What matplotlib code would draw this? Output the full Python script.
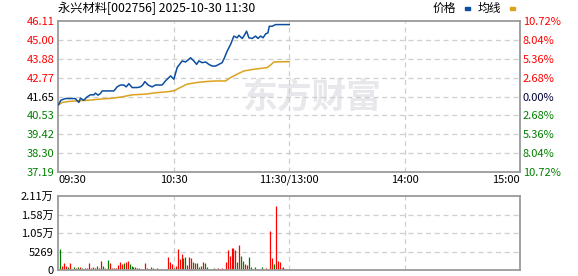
import matplotlib.pyplot as plt

plt.rcParams['font.family'] = ['Noto Sans CJK SC', 'DejaVu Sans']

title = "永兴材料[002756] 2025-10-30 11:30"
pre_close = 41.65

# price line, minutes since 09:30
price_min = [0, 1.2, 3.6, 8.8, 9.7, 10.6, 11.4, 13.2, 14.9, 16.6, 18.4, 19.2, 20.6, 21.8, 22.7,
             28.8, 30.5, 32.2, 34, 35.2, 36.6, 38.3, 40.9, 42.6, 43.8, 44.9, 46.6, 48.7, 50.4,
             53.9, 55.6, 57.4, 58.3, 60, 61.7, 64.3, 66.1, 68.7, 70.4, 71.8, 73, 74.7, 76.5,
             78.2, 79.9, 81.7, 83.4, 85.1, 86.3, 87.7, 89.5, 91.2, 92.9, 93.8, 95.5, 96.4,
             97.8, 99, 100.7, 102.5, 103.7, 105.1, 106.4, 107.7, 108.9, 109.6, 111.1, 112.9, 120]
price = [41.16, 41.43, 41.53, 41.53, 41.40, 41.30, 41.55, 41.43, 41.63, 41.75, 41.75, 41.85, 41.73,
         41.83, 41.98, 41.98, 42.22, 42.33, 42.33, 42.22, 42.41, 42.18, 42.18, 42.22, 42.33, 42.53,
         42.33, 42.22, 42.33, 42.33, 42.57, 42.77, 42.87, 42.67, 43.36, 43.75, 43.69, 43.94, 43.75,
         43.55, 43.75, 43.65, 43.69, 43.55, 43.45, 43.45, 43.55, 43.65, 43.94, 44.33, 44.73, 45.22,
         45.12, 45.27, 45.08, 45.22, 45.51, 45.12, 45.08, 45.22, 45.08, 45.22, 45.12, 45.35, 45.41,
         45.80, 45.80, 45.90, 45.90]

avg_min = [0, 1.9, 5.4, 10.6, 15.8, 21, 27.9, 33.1, 38.3, 45.2, 50.4, 57.4, 60.5, 61.7, 66.9,
           72.1, 77.3, 82.5, 86.9, 89.5, 92.9, 96.4, 101.6, 108.5, 110.3, 112, 120]
avg = [41.16, 41.30, 41.36, 41.40, 41.43, 41.49, 41.55, 41.63, 41.75, 41.79, 41.87, 41.94, 42.00,
       42.09, 42.38, 42.48, 42.54, 42.57, 42.57, 42.77, 42.97, 43.16, 43.26, 43.36, 43.51, 43.69, 43.71]

volume = [5980, 1160, 1875, 1250, 900, 1875, 360, 800, 450, 900, 800, 700, 360, 540, 450, 1875,
          540, 800, 450, 1160, 630, 2500, 1160, 700, 360, 2770, 1875, 700, 700, 700, 1430, 2400,
          1600, 2050, 2320, 2500, 1600, 1250, 900, 800, 540, 540, 360, 360, 2050, 540, 360, 900,
          450, 360, 450, 360, 360, 360, 360, 360, 3570, 2230, 1700, 540, 1160, 5980, 3000, 4500,
          3390, 3570, 1430, 3840, 3300, 2230, 1875, 1960, 900, 1250, 2230, 2050, 900, 360, 360,
          360, 540, 360, 540, 360, 630, 360, 2230, 5710, 4100, 6250, 6250, 5800, 2230, 7050, 4100,
          2680, 1700, 1340, 3840, 900, 360, 800, 360, 360, 360, 800, 360, 540, 360, 11070, 3300,
          1700, 18300, 2500, 2320, 630, 900, 360, 360, 360]
# r = up minute, g = down minute
vol_dir = ("grrrgrrgrg" "rggrrrrrrg" "rrgrggrrrr" "rrrgrrgggr" "grrrrrrggr" "rrrgrrrrrg"
           "rrrrggrrrg" "rgrgrggggr" "ggrrrrrrrr" "rrgrggrrgg" "rgrrrgrrrr" "rgrrrrrrrr")

price_ticks = [37.19, 38.30, 39.42, 40.53, 41.65, 42.77, 43.88, 45.00, 46.11]
price_labels = ["37.19", "38.30", "39.42", "40.53", "41.65", "42.77", "43.88", "45.00", "46.11"]
pct_labels = ["10.72%", "8.04%", "5.36%", "2.68%", "0.00%", "2.68%", "5.36%", "8.04%", "10.72%"]
vol_ticks = [0, 5269, 10538, 15807, 21076]
vol_labels = ["0", "5269", "1.05万", "1.58万", "2.11万"]
time_ticks = [0, 60, 120, 180, 240]
time_labels = ["09:30", "10:30", "11:30/13:00", "14:00", "15:00"]

RED = '#ff0000'
GREEN = '#008000'
BLUE = '#0b4fa0'
GOLD = '#dca21c'
EDGE = '#9a9a9a'
GRID = '#cfcfcf'

fig = plt.figure(figsize=(5.78, 2.76), dpi=100)
ax = fig.add_axes([0.1012, 0.3768, 0.7985, 0.547])
axv = fig.add_axes([0.1012, 0.0217, 0.7985, 0.268])

for a in (ax, axv):
    for s in a.spines.values():
        s.set_color(EDGE)
        s.set_linewidth(1.3)
    a.set_xlim(0, 240)
    a.tick_params(length=0)

# watermark
ax.text(0.55, 0.5, "东方财富", transform=ax.transAxes, fontsize=25, fontweight='bold',
        color='#e8e8ec', ha='center', va='center', zorder=0)

ax.set_ylim(price_ticks[0], price_ticks[-1])
ax.set_yticks(price_ticks)
ax.set_yticklabels(price_labels, fontsize=8)
for lab, v in zip(ax.get_yticklabels(), price_ticks):
    lab.set_color(RED if v > pre_close else (GREEN if v < pre_close else '#000000'))
for v in price_ticks[1:-1]:
    ax.axhline(v, color=GRID, lw=0.9, ls=(0, (4, 3)), zorder=1)
for t in time_ticks[1:-1]:
    ax.axvline(t, color=GRID, lw=0.9, ls=(0, (4, 3)), zorder=1)

ax.set_xticks(time_ticks)
ax.set_xticklabels(time_labels, fontsize=8)
xl = ax.get_xticklabels()
xl[0].set_ha('left')
xl[-1].set_ha('right')
ax.tick_params(axis='x', pad=2)
ax.tick_params(axis='y', pad=3)

ax.plot(avg_min, avg, color=GOLD, lw=1.1, zorder=3)
ax.plot(price_min, price, color=BLUE, lw=1.1, zorder=4)

ax2 = ax.twinx()
ax2.set_ylim(price_ticks[0], price_ticks[-1])
ax2.set_yticks(price_ticks)
ax2.set_yticklabels(pct_labels, fontsize=8)
for lab, v in zip(ax2.get_yticklabels(), price_ticks):
    lab.set_color(RED if v > pre_close else (GREEN if v < pre_close else '#000033'))
ax2.tick_params(length=0, pad=2)
for s in ax2.spines.values():
    s.set_visible(False)

# volume
axv.set_ylim(0, vol_ticks[-1])
axv.set_yticks(vol_ticks)
axv.set_yticklabels(vol_labels, fontsize=8)
axv.set_xticks([])
for v in vol_ticks[1:-1]:
    axv.axhline(v, color=GRID, lw=0.9, ls=(0, (4, 3)), zorder=1)
for t in time_ticks[1:-1]:
    axv.axvline(t, color=GRID, lw=0.9, ls=(0, (4, 3)), zorder=1)
for i, (v, c) in enumerate(zip(volume, vol_dir)):
    axv.vlines(i + 1, 0, v, colors=RED if c == 'r' else GREEN, linewidth=0.9, zorder=2)

fig.text(0.1012, 0.97, title, fontsize=8.8, ha='left', va='center')
fig.text(0.748, 0.97, "价格", fontsize=8.5, ha='left', va='center')
fig.text(0.826, 0.97, "均线", fontsize=8.5, ha='left', va='center')
fig.patches.append(plt.Rectangle((0.8045, 0.962), 0.009, 0.013, color=BLUE, transform=fig.transFigure))
fig.patches.append(plt.Rectangle((0.882, 0.962), 0.009, 0.013, color=GOLD, transform=fig.transFigure))

fig.savefig("out.png", dpi=100)
